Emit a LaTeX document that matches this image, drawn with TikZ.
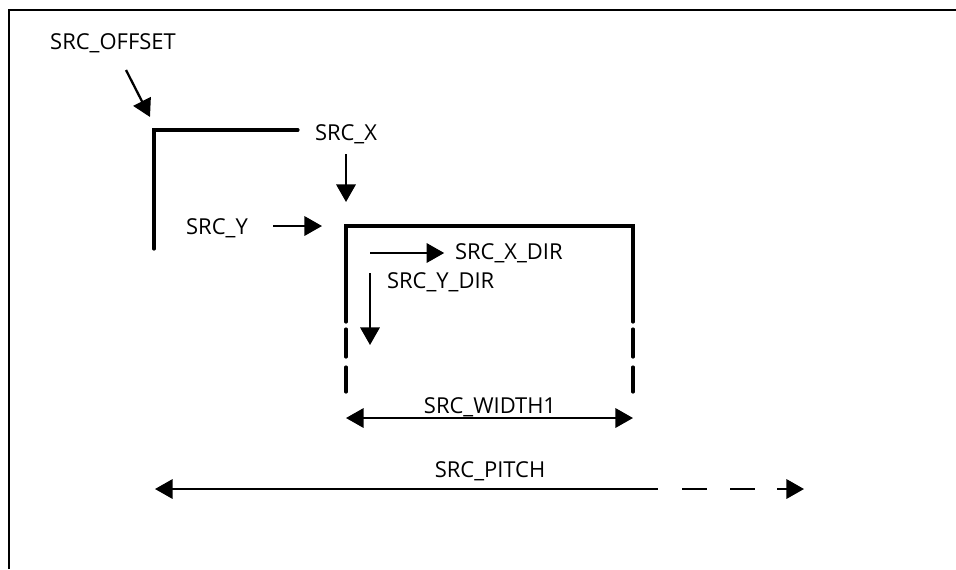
\documentclass[tikz,border=0pt]{standalone}
\usepackage{fontspec}
\setmainfont{Open Sans}
\usetikzlibrary{arrows.meta}

\tikzset{
  lbl/.style={inner sep=1pt, font=\fontsize{12.5}{14}\selectfont},
  edge/.style={line width=1.8pt, line cap=round},
  ptr/.style={line width=1.3pt, -{Triangle[length=10pt,width=11pt]}},
  dim/.style={line width=1.3pt, {Triangle[length=10pt,width=11pt]}-{Triangle[length=10pt,width=11pt]}},
}

\begin{document}
\begin{tikzpicture}[x={(0.02cm,0)}, y={(0,-0.02cm)}]
\useasboundingbox (0,0) rectangle (956,569);
% frame
\draw[line width=1.1pt] (9,569) -- (9,10) -- (956,10);

% source window
\draw[edge] (298,130) -- (154,130) -- (154,249);
\draw[edge] (346,322) -- (346,226) -- (633,226) -- (633,322);
\draw[edge] (346,329) -- (346,357) (346,367) -- (346,392);
\draw[edge] (633,329) -- (633,357) (633,367) -- (633,392);

% labels
\node[lbl] (offset) at (113,43) {SRC\_OFFSET};
\node[lbl] (srcx) at (346,134) {SRC\_X};
\node[lbl] (srcy) at (217,228) {SRC\_Y};
\node[lbl, anchor=west] (xdir) at (453,253) {SRC\_X\_DIR};
\node[lbl, anchor=west] (ydir) at (385,282) {SRC\_Y\_DIR};
\node[lbl] (width) at (490,407) {SRC\_WIDTH1};
\node[lbl] (pitch) at (490,471) {SRC\_PITCH};

% pointers
\coordinate (xs) at (370,253);
\draw[ptr] (126,70) -- (150,117);
\draw[ptr] (346,154) -- (346,202);
\draw[ptr] (273,226) -- (322,226);
\draw[ptr, shorten >=5pt] (xs) -- (xdir.west);
\draw[ptr] (370,273) -- (370,345);

% widths
\coordinate (wl) at (346,418);
\coordinate (wr) at (633,418);
\draw[dim] (wl) -- (wr);
\coordinate (pl) at (155,489);
\coordinate (pm) at (658,489);
\coordinate (pr) at (804,489);
\draw[line width=1.3pt, {Triangle[length=10pt,width=11pt]}-] (pl) -- (pm);
\draw[line width=1.3pt] (682,489) -- (707,489) (730,489) -- (755,489);
\draw[ptr] (777,489) -- (pr);
\end{tikzpicture}
\end{document}
